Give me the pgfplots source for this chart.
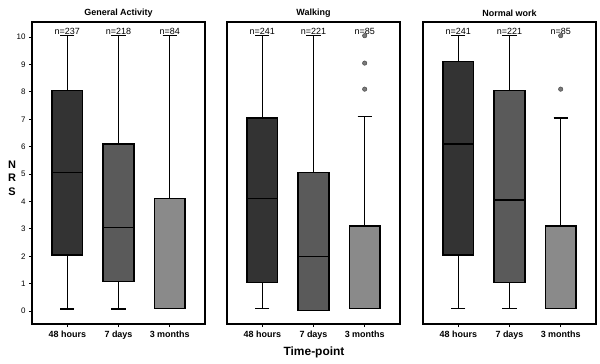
\documentclass[border=0pt]{standalone}
\usepackage{pgfplots}
\pgfplotsset{compat=1.18}
\usepgfplotslibrary{statistics}
\usepackage{fontspec}
\setmainfont{Liberation Sans}
\definecolor{c1}{HTML}{333333}
\definecolor{c2}{HTML}{5A5A5A}
\definecolor{c3}{HTML}{8A8A8A}
\definecolor{co}{HTML}{7A7A7A}
\pgfplotsset{
 panel/.style={scale only axis, width=173bp, height=302bp,
   xmin=-0.69, xmax=2.69, ymin=-0.47, ymax=10.55,
   xtick={0,1,2}, xticklabels={48 hours,7 days,3 months},
   xtick pos=bottom, ytick pos=left, tick align=outside,
   x tick label style={font=\bfseries\fontsize{9}{10}\selectfont},
   y tick label style={font=\fontsize{8}{9}\selectfont},
   /pgf/number format/assume math mode=true,
   axis line style={line width=1.4pt},
   major tick length=3bp, tick style={line width=1.1pt,black},
   anchor=south west, clip=false},
 bx/.style={draw=black, line width=1.4pt, solid,
   boxplot/draw direction=y,
   boxplot/box extend=0.6, boxplot/whisker extend=0.28,
   mark=*, mark size=2.2bp, mark options={fill=co, draw=co!60!black, line width=0.5pt}},
}
\tikzset{nl/.style={font=\fontsize{9}{10}\selectfont, anchor=south, inner sep=1.2pt}}
\begin{document}
\begin{tikzpicture}
\useasboundingbox (-32bp,-40bp) rectangle (568bp,324bp);
% Panel 1
\begin{axis}[panel, at={(0bp,0bp)}, ytick={0,1,...,10}]
\addplot[bx, fill=c1, boxplot prepared={draw position=0, lower whisker=0.08, lower quartile=2.05, median=5.05, upper quartile=8.05, upper whisker=10.05}] coordinates {};
\addplot[bx, fill=c2, boxplot prepared={draw position=1, lower whisker=0.08, lower quartile=1.07, median=3.05, upper quartile=6.1, upper whisker=10.05}] coordinates {};
\addplot[bx, fill=c3, boxplot prepared={draw position=2, lower whisker=0.1, lower quartile=0.1, median=0.1, upper quartile=4.1, upper whisker=10.05}] coordinates {};
\node[nl] at (axis cs:0,10.05) {n=237};
\node[nl] at (axis cs:1,10.05) {n=218};
\node[nl] at (axis cs:2,10.05) {n=84};
\end{axis}
% Panel 2
\begin{axis}[panel, at={(195bp,0bp)}, ytick=\empty]
\addplot[bx, fill=c1, boxplot prepared={draw position=0, lower whisker=0.1, lower quartile=1.05, median=4.1, upper quartile=7.05, upper whisker=10.05}] coordinates {};
\addplot[bx, fill=c2, boxplot prepared={draw position=1, lower whisker=0.02, lower quartile=0.02, median=2.0, upper quartile=5.05, upper whisker=10.05}] coordinates {};
\addplot[bx, fill=c3, boxplot prepared={draw position=2, lower whisker=0.1, lower quartile=0.1, median=0.1, upper quartile=3.1, upper whisker=7.1}] table[row sep=\\, y index=0] {data\\ 8.1\\ 9.05\\ 10.05\\};
\node[nl] at (axis cs:0,10.05) {n=241};
\node[nl] at (axis cs:1,10.05) {n=221};
\node[nl] at (axis cs:2,10.05) {n=85};
\end{axis}
% Panel 3
\begin{axis}[panel, at={(391bp,0bp)}, ytick=\empty]
\addplot[bx, fill=c1, boxplot prepared={draw position=0, lower whisker=0.1, lower quartile=2.05, median=6.1, upper quartile=9.1, upper whisker=10.05}] coordinates {};
\addplot[bx, fill=c2, boxplot prepared={draw position=1, lower whisker=0.1, lower quartile=1.05, median=4.05, upper quartile=8.05, upper whisker=10.05}] coordinates {};
\addplot[bx, fill=c3, boxplot prepared={draw position=2, lower whisker=0.1, lower quartile=0.1, median=0.1, upper quartile=3.1, upper whisker=7.05}] table[row sep=\\, y index=0] {data\\ 8.1\\ 10.05\\};
\node[nl] at (axis cs:0,10.05) {n=241};
\node[nl] at (axis cs:1,10.05) {n=221};
\node[nl] at (axis cs:2,10.05) {n=85};
\end{axis}
% titles
\node[font=\bfseries\fontsize{9}{10}\selectfont] at (86.5bp,311bp) {General Activity};
\node[font=\bfseries\fontsize{9}{10}\selectfont] at (281.5bp,311bp) {Walking};
\node[font=\bfseries\fontsize{9}{10}\selectfont] at (477.5bp,311bp) {Normal work};
\node[font=\bfseries\fontsize{11}{13.5}\selectfont, align=center] at (-20bp,146bp) {N\\R\\S};
\node[font=\bfseries\fontsize{12}{14}\selectfont] at (282bp,-28bp) {Time-point};
\end{tikzpicture}
\end{document}
